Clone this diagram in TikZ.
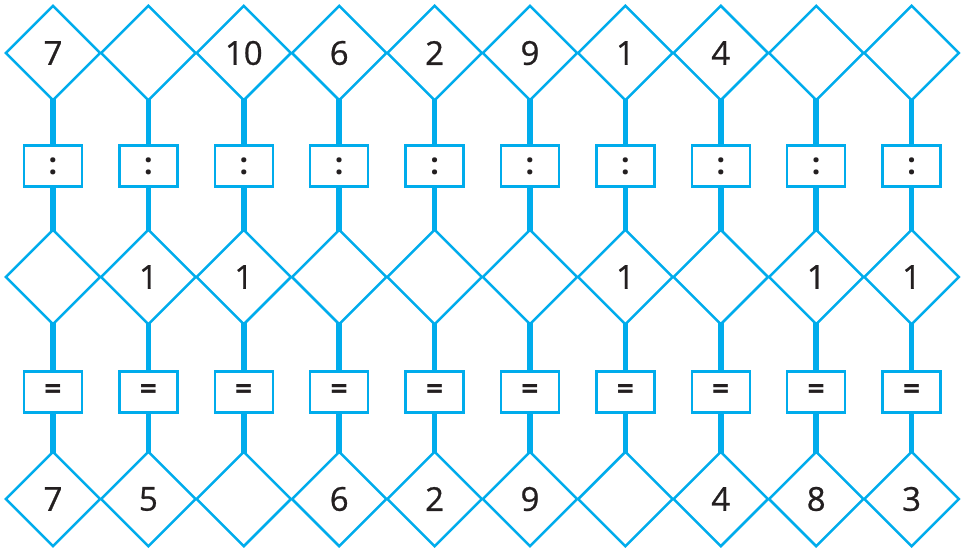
\documentclass[tikz,border=0pt]{standalone}
\usepackage{fontspec}
\setmainfont{Open Sans}
\newfontfamily\numfont{Open Sans}[UprightFeatures={FakeBold=0.7}]
\usetikzlibrary{shapes.geometric}
\usetikzlibrary{positioning}
\definecolor{c1}{RGB}{0,172,236}
\definecolor{c2}{RGB}{35,31,32}
\pgfdeclarelayer{background}
\pgfsetlayers{background,main}
\tikzset{
  dia/.style = {diamond, draw=c1, fill=white, line width=2.5pt, aspect=1, minimum width=95.4pt, minimum height=95.4pt, inner sep=0pt, text=c2, font=\numfont\fontsize{33}{33}\selectfont},
  opbox/.style = {rectangle, draw=c1, fill=white, line width=2.5pt, minimum width=58pt, minimum height=41pt, inner sep=0pt, text=c2, font=\bfseries\fontsize{30}{30}\selectfont},
  link/.style = {c1, line width=5.5pt},
}

\begin{document}
\begin{tikzpicture}[x=1pt, y=-1pt]
\useasboundingbox (0,0) rectangle (964,547);

% top / middle / bottom numbers per column
\foreach \t/\m/\b [count=\i] in {7//7, /1/5, 10/1/, 6//6, 2//2, 9//9, 1/1/, 4//4, /1/8, /1/3}{
  \pgfmathsetmacro{\xc}{53+95.4*(\i-1)}
  \node[dia] (t\i) at (\xc,53) {\t};
  \node[opbox] (d\i) at (\xc,166) {:};
  \node[dia] (m\i) at (\xc,277) {\m};
  \node[opbox] (e\i) at (\xc,392) {=};
  \node[dia] (b\i) at (\xc,499) {\b};

  \begin{pgfonlayer}{background}
  \draw[link] (t\i.center) -- (d\i.center);
  \draw[link] (d\i.center) -- (m\i.center);
  \draw[link] (m\i.center) -- (e\i.center);
  \draw[link] (e\i.center) -- (b\i.center);
  \end{pgfonlayer}
}

\end{tikzpicture}
\end{document}
